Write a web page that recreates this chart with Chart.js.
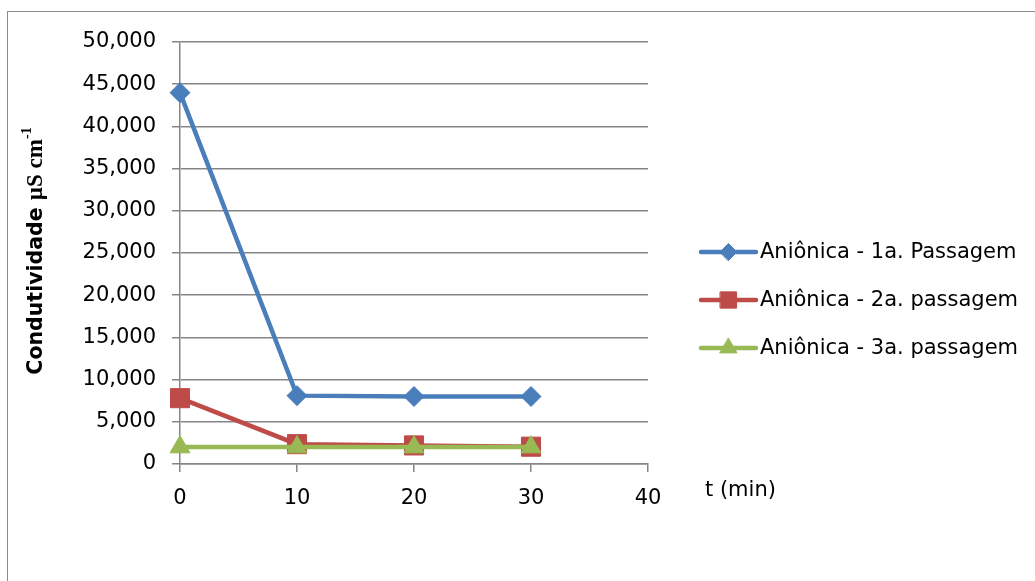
<!DOCTYPE html>
<html>
<head>
<meta charset="utf-8">
<script src="https://cdn.jsdelivr.net/npm/chart.js@4/dist/chart.umd.min.js"></script>
<style>
  html, body { margin: 0; padding: 0; background: #fff; overflow: hidden; }
  #wrap { position: relative; width: 1035px; height: 581px; overflow: hidden; }
  #frame { position: absolute; left: 7px; top: 11px; width: 1028px; height: 570px;
           border-top: 1.5px solid #8a8a8a; border-left: 1.5px solid #8a8a8a; box-sizing: border-box; }
  canvas { position: absolute; left: 0; top: 0; }
</style>
</head>
<body>
<div id="wrap">
  <div id="frame"></div>
  <canvas id="c" width="1035" height="581"></canvas>
</div>
<script>
// ---- data ----
const timesMin = [0, 10, 20, 30];
const seriesNames = ['Aniônica - 1a. Passagem', 'Aniônica - 2a. passagem', 'Aniônica - 3a. passagem'];
const passagem1 = [44000, 8100, 8000, 8000];
const passagem2 = [7800, 2350, 2200, 2050];
const passagem3 = [2000, 2000, 2000, 2000];
const xTicks = [0, 10, 20, 30, 40];
const yTicks = [0, 5000, 10000, 15000, 20000, 25000, 30000, 35000, 40000, 45000, 50000];
const xTitle = 't (min)';
const yTitleMain = 'Condutividade ';
const yTitleUnit = 'µS cm';
const yTitleSup = '-1';

const colors = ['#4A7EBB', '#BE4B48', '#98B954'];
const markerStyles = ['rectRot', 'rect', 'triangle'];
const markerRadii = [10, 13.5, 11.5];
const FONT = '"DejaVu Sans", sans-serif';

function pts(vals) { return timesMin.map((t, i) => ({ x: t, y: vals[i] })); }

const allSeries = [passagem1, passagem2, passagem3];
const datasets = allSeries.map((vals, i) => ({
  label: seriesNames[i],
  data: pts(vals),
  borderColor: colors[i],
  backgroundColor: colors[i],
  borderWidth: 4.5,
  pointStyle: markerStyles[i],
  pointRadius: markerRadii[i],
  pointHoverRadius: markerRadii[i],
  pointBorderWidth: 1,
  pointBackgroundColor: colors[i],
  pointBorderColor: colors[i],
  tension: 0,
  clip: false,
  order: 3 - i
}));

const overlay = {
  id: 'overlay',
  afterDraw(chart) {
    const ctx = chart.ctx;
    ctx.save();
    // legend
    const lx0 = 701, lx1 = 756, tx = 760;
    const rows = [252, 300, 348];
    allSeries.forEach((_, i) => {
      const y = rows[i];
      ctx.strokeStyle = colors[i];
      ctx.lineWidth = 4.5;
      ctx.lineCap = 'round';
      ctx.beginPath(); ctx.moveTo(lx0, y); ctx.lineTo(lx1, y); ctx.stroke();
      ctx.fillStyle = colors[i];
      ctx.lineWidth = 1;
      Chart.helpers.drawPoint(ctx, { pointStyle: markerStyles[i], radius: markerRadii[i] * 0.85, borderWidth: 1, rotation: 0 }, (lx0 + lx1) / 2, y);
      ctx.fillStyle = '#000';
      ctx.font = '21px ' + FONT;
      ctx.textBaseline = 'middle';
      ctx.textAlign = 'left';
      ctx.fillText(seriesNames[i], tx, y + 1);
    });
    // x title
    ctx.fillStyle = '#000';
    ctx.font = '21px ' + FONT;
    ctx.textBaseline = 'middle';
    ctx.textAlign = 'left';
    ctx.fillText(xTitle, 705, 491);
    // y title (rotated, mixed fonts)
    ctx.translate(34, 251);
    ctx.rotate(-Math.PI / 2);
    const f1 = 'bold 20.5px ' + FONT;
    const f2 = 'bold 23px "Liberation Serif", serif';
    const f3 = 'bold 14px "Liberation Serif", serif';
    ctx.font = f1; const w1 = ctx.measureText(yTitleMain).width;
    ctx.font = f2; const w2 = ctx.measureText(yTitleUnit).width;
    ctx.font = f3; const w3 = ctx.measureText(yTitleSup).width;
    let x = -(w1 + w2 + w3) / 2;
    ctx.textBaseline = 'alphabetic';
    ctx.textAlign = 'left';
    ctx.font = f1; ctx.fillText(yTitleMain, x, 8); x += w1;
    ctx.font = f2; ctx.fillText(yTitleUnit, x, 8); x += w2;
    ctx.font = f3; ctx.fillText(yTitleSup, x, -3);
    ctx.restore();
  }
};

new Chart(document.getElementById('c'), {
  type: 'line',
  data: { datasets },
  options: {
    responsive: false,
    animation: false,
    events: [],
    layout: { padding: { left: 0, right: 387, top: 42, bottom: 0 } },
    plugins: { legend: { display: false }, tooltip: { enabled: false } },
    scales: {
      x: {
        type: 'linear',
        min: xTicks[0], max: xTicks[xTicks.length - 1],
        afterBuildTicks(s) { s.ticks = xTicks.map(v => ({ value: v })); },
        afterFit(s) { s.height = 581 - 464; },
        grid: { drawOnChartArea: false, drawTicks: true, tickLength: 8, color: '#868686', lineWidth: 1.5 },
        border: { display: true, color: '#868686', width: 1.5 },
        ticks: { color: '#000', font: { family: FONT, size: 21 }, padding: 14,
                 callback: v => String(v), maxRotation: 0 }
      },
      y: {
        type: 'linear',
        min: yTicks[0], max: yTicks[yTicks.length - 1],
        afterBuildTicks(s) { s.ticks = yTicks.map(v => ({ value: v })); },
        afterFit(s) { s.width = 180; },
        grid: { drawOnChartArea: true, drawTicks: true, tickLength: 8, color: '#868686', lineWidth: 1.5 },
        border: { display: true, color: '#868686', width: 1.5 },
        ticks: { color: '#000', font: { family: FONT, size: 21 }, padding: 16,
                 callback: v => v.toLocaleString('en-US') }
      }
    }
  },
  plugins: [overlay]
});
</script>
</body>
</html>
